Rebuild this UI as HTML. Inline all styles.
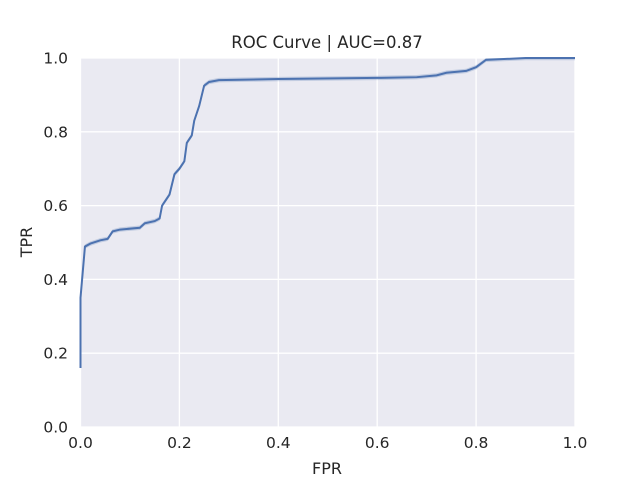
<!DOCTYPE html>
<html><head><meta charset="utf-8"><style>
body{margin:0;background:#fff;}
svg text{font-family:"DejaVu Sans","Liberation Sans",sans-serif;fill:#262626;}
</style></head><body>
<svg width="640" height="480">
<rect x="80.5" y="58" width="494.5" height="369" fill="#eaeaf2"/>
<g id="grid"></g>
<path id="band" fill="#4c72b0" opacity="0.25"/>
<path id="line" fill="none" stroke="#4c72b0" stroke-width="2"/>
<g id="ticks"></g>
<text x="327" y="48" text-anchor="middle" font-size="16.5">ROC Curve | AUC=0.87</text>
<text x="327" y="474" text-anchor="middle" font-size="16">FPR</text>
<text x="32" y="242" text-anchor="middle" font-size="16" transform="rotate(-90 32 242)">TPR</text>
</svg>
<script>
const fpr=[0,0,0.009,0.02,0.04,0.055,0.065,0.08,0.12,0.13,0.15,0.16,0.165,0.18,0.19,0.2,0.21,0.215,0.225,0.23,0.24,0.25,0.26,0.28,0.4,0.6,0.68,0.72,0.74,0.78,0.8,0.82,0.9,1];
const tpr=[0.16,0.35,0.489,0.497,0.506,0.51,0.53,0.535,0.54,0.552,0.558,0.565,0.6,0.63,0.685,0.70,0.72,0.77,0.79,0.83,0.87,0.925,0.935,0.94,0.943,0.946,0.948,0.953,0.96,0.965,0.975,0.995,1.0,1.0];
const ticks=[0,0.2,0.4,0.6,0.8,1.0];
const tickLabels=["0.0","0.2","0.4","0.6","0.8","1.0"];
const X=v=>80.5+v*494.5, Y=v=>427-v*369;
const ns="http://www.w3.org/2000/svg";
const g=document.getElementById('grid'), t=document.getElementById('ticks');
ticks.forEach((v,i)=>{
 let l=document.createElementNS(ns,'line');
 
 
 l.setAttribute('x1',X(v));l.setAttribute('x2',X(v));l.setAttribute('y1',58);l.setAttribute('y2',427);
 l.setAttribute('stroke','#fff');l.setAttribute('stroke-width','1.3');g.appendChild(l);
 let m=document.createElementNS(ns,'line');
 
 
 m.setAttribute('x1',80.5);m.setAttribute('x2',575);m.setAttribute('y1',Y(v));m.setAttribute('y2',Y(v));
 m.setAttribute('stroke','#fff');m.setAttribute('stroke-width','1.3');g.appendChild(m);
 let a=document.createElementNS(ns,'text');
 
 
 a.setAttribute('x',X(v));a.setAttribute('y',448);a.setAttribute('text-anchor','middle');a.setAttribute('font-size','15.5');
 a.textContent=tickLabels[i];t.appendChild(a);
 let b=document.createElementNS(ns,'text');
 
 
 b.setAttribute('x',68);b.setAttribute('y',Y(v)+5.5);b.setAttribute('text-anchor','end');b.setAttribute('font-size','15.5');
 b.textContent=tickLabels[i];t.appendChild(b);
});
document.getElementById('line').setAttribute('d',fpr.map((f,i)=>(i?'L':'M')+X(f)+','+Y(tpr[i])).join(''));
const up=fpr.map((f,i)=>X(f)+','+Y(Math.min(1,tpr[i]+0.006)));
const dn=fpr.map((f,i)=>X(f)+','+Y(tpr[i]-0.006)).reverse();
document.getElementById('band').setAttribute('d','M'+up.join('L')+'L'+dn.join('L')+'Z');
</script>
</body></html>
